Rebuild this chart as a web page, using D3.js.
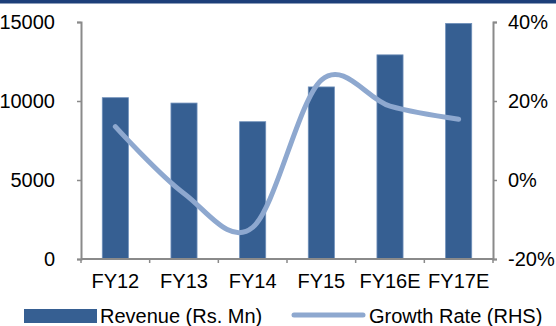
<!DOCTYPE html>
<html>
<head>
<meta charset="utf-8">
<script src="https://cdn.jsdelivr.net/npm/d3@7/dist/d3.min.js"></script>
<style>
  html, body { margin: 0; padding: 0; background: #fff; }
  svg { display: block; font-family: "Liberation Sans", Arial, sans-serif; }
</style>
</head>
<body>
<svg id="chart" width="556" height="326"></svg>
<script>
// Fiscal years shown on the category axis
const years = ["FY12", "FY13", "FY14", "FY15", "FY16E", "FY17E"];
// Revenue in Rs. Mn (left axis)
const revenue = [10210, 9870, 8690, 10890, 12920, 14910];
// Year-on-year growth in % (right axis)
const growth = [13.5, -3.4, -12.0, 25.3, 18.7, 15.4];
// Axis tick values
const leftTicks = [0, 5000, 10000, 15000];
const rightTicks = [-20, 0, 20, 40];

const svg = d3.select("#chart");
const plotLeft = 81, plotRight = 493, plotTop = 22, plotBottom = 259;
const axisColor = "#8a8a8a";
const barColor = "#365f92";
const lineColor = "#8ea8cf";

// Dark band across the top edge
svg.append("rect").attr("x", 0).attr("y", 0).attr("width", 556).attr("height", 3.5)
  .attr("fill", "#1d3f79");

const x = d3.scaleBand().domain(years).range([plotLeft, plotRight]).padding(0);
const yL = d3.scaleLinear().domain([0, 15000]).range([plotBottom, plotTop]);
const yR = d3.scaleLinear().domain([-20, 40]).range([plotBottom, plotTop]);

const barW = x.bandwidth() * 0.38;

// Revenue bars
svg.append("g").selectAll("rect").data(years).join("rect")
  .attr("x", d => x(d) + x.bandwidth() / 2 - barW / 2)
  .attr("y", (d, i) => yL(revenue[i]))
  .attr("width", barW)
  .attr("height", (d, i) => plotBottom - yL(revenue[i]))
  .attr("fill", barColor)
  .attr("stroke", "#6f8fba")
  .attr("stroke-width", 0.8);

// Axes
const styleAxis = g => {
  g.select(".domain").attr("stroke", axisColor).attr("stroke-width", 2);
  g.selectAll(".tick line").attr("stroke", axisColor).attr("stroke-width", 1.5);
  g.selectAll(".tick text").attr("fill", "#000").attr("font-size", 20)
    .attr("font-family", "Liberation Sans, Arial, sans-serif");
};

svg.append("g").attr("transform", `translate(${plotLeft},0)`)
  .call(d3.axisLeft(yL).tickValues(leftTicks).tickFormat(d3.format("d"))
    .tickSizeInner(4).tickSizeOuter(4).tickPadding(22))
  .call(styleAxis);

svg.append("g").attr("transform", `translate(${plotRight},0)`)
  .call(d3.axisRight(yR).tickValues(rightTicks).tickFormat(d => d + "%")
    .tickSizeInner(4).tickSizeOuter(4).tickPadding(11))
  .call(styleAxis);

// Category axis with ticks at band boundaries
const xg = svg.append("g").attr("transform", `translate(0,${plotBottom})`);
xg.append("line").attr("x1", plotLeft).attr("x2", plotRight).attr("y1", 0).attr("y2", 0)
  .attr("stroke", axisColor).attr("stroke-width", 2);
const bounds = years.map(d => x(d)).concat([plotRight]);
xg.selectAll("line.tk").data(bounds).join("line").attr("class", "tk")
  .attr("x1", d => d).attr("x2", d => d).attr("y1", 0).attr("y2", 4)
  .attr("stroke", axisColor).attr("stroke-width", 1.5);
xg.selectAll("text").data(years).join("text")
  .attr("x", d => x(d) + x.bandwidth() / 2)
  .attr("y", 29)
  .attr("text-anchor", "middle")
  .attr("font-size", 20)
  .text(d => d);

// Growth rate line (smoothed)
const line = d3.line()
  .x((d, i) => x(years[i]) + x.bandwidth() / 2)
  .y(d => yR(d))
  .curve(d3.curveCatmullRom.alpha(0));
svg.append("path").datum(growth)
  .attr("d", line)
  .attr("fill", "none")
  .attr("stroke", lineColor)
  .attr("stroke-width", 5)
  .attr("stroke-linecap", "round")
  .attr("stroke-linejoin", "round");

// Legend
const lg = svg.append("g");
lg.append("rect").attr("x", 24).attr("y", 309).attr("width", 73).attr("height", 14)
  .attr("fill", barColor);
lg.append("text").attr("x", 100).attr("y", 323).attr("font-size", 20).text("Revenue (Rs. Mn)");
lg.append("line").attr("x1", 294).attr("x2", 363).attr("y1", 315).attr("y2", 315)
  .attr("stroke", lineColor).attr("stroke-width", 5).attr("stroke-linecap", "round");
lg.append("text").attr("x", 369).attr("y", 323).attr("font-size", 20).text("Growth Rate (RHS)");
</script>
</body>
</html>
